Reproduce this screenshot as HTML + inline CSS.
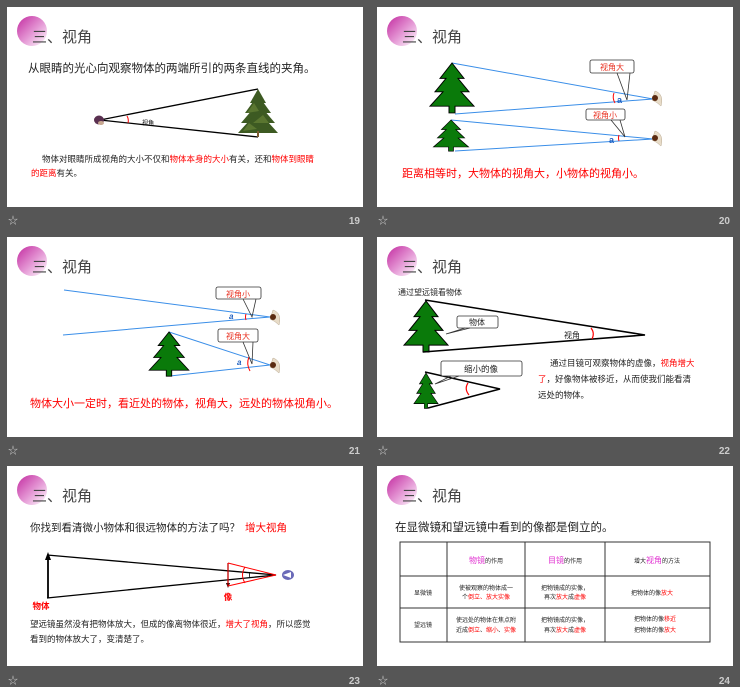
<!DOCTYPE html>
<html><head><meta charset="utf-8"><style>
html,body{margin:0;padding:0;background:#565656;}
svg{display:block;}
text{font-family:"Liberation Sans","Noto Sans CJK SC",sans-serif;}
</style></head><body>
<svg width="740" height="687" viewBox="0 0 740 687" xmlns="http://www.w3.org/2000/svg">
<defs>
<linearGradient id="pk" x1="0" y1="0" x2="1" y2="1">
<stop offset="0" stop-color="#c2299f"/><stop offset="0.55" stop-color="#e59ad6"/><stop offset="1" stop-color="#ffffff"/>
</linearGradient>
<g id="hdr">
<rect x="0" y="0" width="356" height="200" fill="#fff"/>
<circle cx="25" cy="24" r="15" fill="url(#pk)"/>
<text x="25" y="35" font-size="15" fill="#444">三、视角</text>
</g>
<g id="tree">
<polygon points="0,0 -12,16 -6,16 -17,30 -9,30 -22,45 -3,45 -3,52 3,52 3,45 22,45 9,30 17,30 6,16 12,16" fill="#0a7a0a" stroke="#000" stroke-width="1"/>
</g>
<g id="eye">
<path d="M0,-7 Q9,-4 6,8 Q2,4 -3,2 Q-1,-4 0,-7Z" fill="#e8dcc8" stroke="#b8a890" stroke-width="0.5"/>
<circle cx="0" cy="0" r="3" fill="#5a2a10"/>
</g>
</defs>
<rect width="740" height="687" fill="#565656"/>

<!-- footers -->
<g fill="#ccc" font-size="10">
<text x="8" y="224">☆</text><text x="360" y="224" text-anchor="end" font-weight="bold">19</text>
<text x="378" y="224">☆</text><text x="730" y="224" text-anchor="end" font-weight="bold">20</text>
<text x="8" y="454">☆</text><text x="360" y="454" text-anchor="end" font-weight="bold">21</text>
<text x="378" y="454">☆</text><text x="730" y="454" text-anchor="end" font-weight="bold">22</text>
<text x="8" y="684">☆</text><text x="360" y="684" text-anchor="end" font-weight="bold">23</text>
<text x="378" y="684">☆</text><text x="730" y="684" text-anchor="end" font-weight="bold">24</text>
</g>

<!-- 19 -->
<g transform="translate(7,7)">
<use href="#hdr"/>
<text x="21" y="65" font-size="11.5" fill="#222">从眼睛的光心向观察物体的两端所引的两条直线的夹角。</text>
<polyline points="251,82 93,113 251,130" fill="none" stroke="#000" stroke-width="1.3"/>
<ellipse cx="92" cy="113" rx="5" ry="4.5" fill="#5a3050"/>
<ellipse cx="94" cy="116" rx="3" ry="2" fill="#c8a890"/>
<path d="M120,109 Q122,112 121,116" fill="none" stroke="red" stroke-width="1"/>
<text x="135" y="118" font-size="6" fill="#000">视角</text>
<g fill="#3d5a22">
<polygon points="251,82 243,96 259,96"/>
<polygon points="251,88 238,106 264,106"/>
<polygon points="251,96 234,116 268,116"/>
<polygon points="251,104 231,126 271,126"/>
</g>
<g fill="#6e8a3a" opacity="0.6">
<polygon points="247,96 240,106 252,104"/><polygon points="256,108 246,116 262,116"/><polygon points="242,116 236,124 250,122"/>
</g>
<rect x="250" y="124" width="2" height="6" fill="#7a5a30"/>
<text x="35" y="155" font-size="8.5" fill="#222">物体对眼睛所成视角的大小不仅和<tspan fill="red">物体本身的大小</tspan>有关，还和<tspan fill="red">物体到眼睛</tspan></text>
<text x="24" y="169" font-size="8.5" fill="red">的距离<tspan fill="#222">有关。</tspan></text>
</g>

<!-- 20 -->
<g transform="translate(377,7)">
<use href="#hdr"/>
<g stroke="#3a8ee8" stroke-width="1" fill="none">
<polyline points="75,56 276,92 78,107"/>
<polyline points="74,113 276,132 78,144"/>
</g>
<use href="#tree" transform="translate(75,56) scale(1,0.96)"/>
<use href="#tree" transform="translate(74,113) scale(0.8,0.6)"/>
<use href="#eye" transform="translate(278,91)"/>
<use href="#eye" transform="translate(278,131)"/>
<path d="M237,86 Q235,91 238,96" fill="none" stroke="red" stroke-width="1"/>
<text x="240" y="96" font-size="9" fill="#2060c0" font-weight="bold">a</text>
<text x="232" y="136" font-size="9" fill="#2060c0" font-weight="bold">a</text>
<path d="M242,128 Q241,131 242,134" fill="none" stroke="red" stroke-width="1"/>
<g stroke="#333" stroke-width="0.8" fill="#fff">
<rect x="213" y="53" width="44" height="13" rx="2"/>
<polyline points="240,66 250,93 253,66" fill="none"/>
<rect x="209" y="102" width="39" height="11" rx="2"/>
<polyline points="234,113 248,130 243,113" fill="none"/>
</g>
<text x="235" y="63" font-size="8" fill="#e83020" text-anchor="middle">视角大</text>
<text x="228" y="111" font-size="8" fill="#e83020" text-anchor="middle">视角小</text>
<text x="25" y="170" font-size="11" fill="red">距离相等时，大物体的视角大，小物体的视角小。</text>
</g>

<!-- 21 -->
<g transform="translate(7,237)">
<use href="#hdr"/>
<g stroke="#3a8ee8" stroke-width="1" fill="none">
<polyline points="57,53 263,80 56,98"/>
<polyline points="162,95 263,128 163,139"/>
</g>
<use href="#tree" transform="translate(162,95) scale(0.9,0.85)"/>
<use href="#eye" transform="translate(266,80)"/>
<use href="#eye" transform="translate(266,128)"/>
<path d="M239,77 Q238,80 239,83" fill="none" stroke="red" stroke-width="1"/>
<path d="M242,120 Q239,127 243,134" fill="none" stroke="red" stroke-width="1"/>
<text x="222" y="82" font-size="8" fill="#2060c0" font-style="italic" font-weight="bold">a</text>
<text x="230" y="128" font-size="8" fill="#2060c0" font-style="italic" font-weight="bold">a</text>
<g stroke="#333" stroke-width="0.8" fill="#fff">
<rect x="209" y="50" width="45" height="12" rx="2"/>
<polyline points="236,62 245,80 249,62" fill="none"/>
<rect x="211" y="92" width="40" height="13" rx="2"/>
<polyline points="236,105 245,127 246,105" fill="none"/>
</g>
<text x="231" y="60" font-size="8" fill="#e83020" text-anchor="middle">视角小</text>
<text x="231" y="102" font-size="8" fill="#e83020" text-anchor="middle">视角大</text>
<text x="23" y="170" font-size="11" fill="red">物体大小一定时，看近处的物体，视角大，远处的物体视角小。</text>
</g>

<!-- 22 -->
<g transform="translate(377,237)">
<use href="#hdr"/>
<text x="21" y="58" font-size="8" fill="#222">通过望远镜看物体</text>
<use href="#tree" transform="translate(49,64) scale(1,0.98)"/>
<polyline points="48,63 268,98 46,115" fill="none" stroke="#000" stroke-width="1.5"/>
<path d="M214,91 Q218,96 215,102" fill="none" stroke="red" stroke-width="1.2"/>
<text x="195" y="101" font-size="8" fill="#222" text-anchor="middle">视角</text>
<use href="#tree" transform="translate(49,136) scale(0.55,0.68)"/>
<polyline points="48,135 123,152 51,171" fill="none" stroke="#000" stroke-width="1.5"/>
<path d="M91,146 Q87,152 92,158" fill="none" stroke="red" stroke-width="1.2"/>
<g stroke="#333" stroke-width="0.8" fill="#fff">
<rect x="80" y="79" width="41" height="12" rx="2"/>
<polyline points="88,91 69,97 93,91" fill="none"/>
<rect x="64" y="124" width="81" height="15" rx="2"/>
<polyline points="74,139 58,147 82,139" fill="none"/>
</g>
<text x="100" y="88" font-size="8" fill="#222" text-anchor="middle">物体</text>
<text x="104" y="135" font-size="8.5" fill="#222" text-anchor="middle">缩小的像</text>
<text x="173" y="129" font-size="8.5" fill="#222">通过目镜可观察物体的虚像，<tspan fill="red">视角增大</tspan></text>
<text x="161" y="145" font-size="8.5" fill="#222"><tspan fill="red">了</tspan>，好像物体被移近，从而使我们能看清</text>
<text x="161" y="161" font-size="8.5" fill="#222">远处的物体。</text>
</g>

<!-- 23 -->
<g transform="translate(7,466)">
<use href="#hdr"/>
<text x="23" y="65" font-size="10.5" fill="#222">你找到看清微小物体和很远物体的方法了吗？ <tspan x="238" fill="red">增大视角</tspan></text>
<polyline points="40,89 269,109 40,132" fill="none" stroke="#000" stroke-width="1.3"/>
<line x1="41" y1="132" x2="41" y2="93" stroke="#000" stroke-width="1.8"/>
<polygon points="41,86 38,94 44,94" fill="#000"/>
<line x1="221" y1="97" x2="221" y2="118" stroke="#000" stroke-width="1.3"/>
<polygon points="221,122 219,117 223,117" fill="#000"/>
<polyline points="221,97 269,109 221,120 221,97" fill="none" stroke="red" stroke-width="1"/>
<path d="M238,101 Q233,109 238,117" fill="none" stroke="red" stroke-width="1"/>
<path d="M243,106 Q242,109 243,112" fill="none" stroke="#000" stroke-width="0.8"/>
<ellipse cx="281" cy="109" rx="6" ry="5" fill="#6a6ab8"/>
<polygon points="276,109 284,106 284,112" fill="#fff"/>
<text x="34" y="143" font-size="8.5" fill="red" font-weight="bold" text-anchor="middle">物体</text>
<text x="221" y="134" font-size="8.5" fill="red" font-weight="bold" text-anchor="middle">像</text>
<text x="23" y="161" font-size="8.5" fill="#222">望远镜虽然没有把物体放大，但成的像离物体很近，<tspan fill="red">增大了视角</tspan>，所以感觉</text>
<text x="23" y="176" font-size="8.5" fill="#222">看到的物体放大了，变清楚了。</text>
</g>

<!-- 24 -->
<g transform="translate(377,466)">
<use href="#hdr"/>
<text x="18" y="65" font-size="11.5" fill="#222">在显微镜和望远镜中看到的像都是倒立的。</text>
<g stroke="#333" stroke-width="1" fill="none">
<rect x="23" y="76" width="310" height="100"/>
<line x1="70" y1="76" x2="70" y2="176"/><line x1="148" y1="76" x2="148" y2="176"/><line x1="228" y1="76" x2="228" y2="176"/>
<line x1="23" y1="110" x2="333" y2="110"/><line x1="23" y1="142" x2="333" y2="142"/>
</g>
<g font-size="6" fill="#222" text-anchor="middle">
<text x="109" y="97"><tspan fill="#e030d0" font-size="8">物镜</tspan>的作用</text>
<text x="188" y="97"><tspan fill="#e030d0" font-size="8">目镜</tspan>的作用</text>
<text x="280" y="97">增大<tspan fill="#e030d0" font-size="8">视角</tspan>的方法</text>
<text x="46" y="129">显微镜</text>
<text x="46" y="161">望远镜</text>
<text x="109" y="124">使被观察的物体成一</text>
<text x="109" y="133">个<tspan fill="red">倒立、放大实像</tspan></text>
<text x="188" y="124">把物镜成的实像，</text>
<text x="188" y="133">再次<tspan fill="red">放大</tspan>成<tspan fill="red">虚像</tspan></text>
<text x="275" y="129">把物体的像<tspan fill="red">放大</tspan></text>
<text x="109" y="156">使远处的物体在焦点附</text>
<text x="109" y="166">近成<tspan fill="red">倒立</tspan>、<tspan fill="red">缩小</tspan>、<tspan fill="red">实像</tspan></text>
<text x="188" y="156">把物镜成的实像，</text>
<text x="188" y="166">再次<tspan fill="red">放大</tspan>成<tspan fill="red">虚像</tspan></text>
<text x="278" y="155">把物体的像<tspan fill="red">移近</tspan></text>
<text x="278" y="166">把物体的像<tspan fill="red">放大</tspan></text>
</g>
</g>
</svg>
</body></html>
